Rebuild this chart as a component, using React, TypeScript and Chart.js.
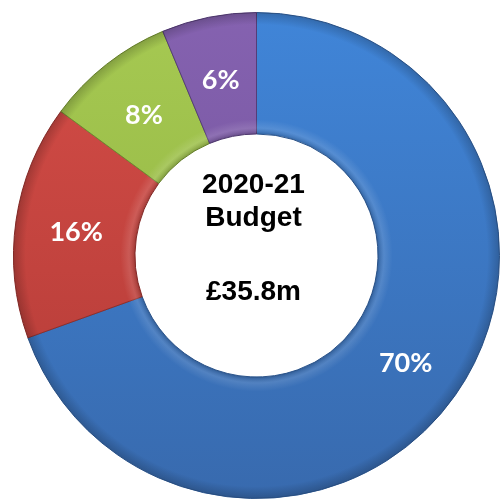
import React, { useEffect, useRef } from "react";
import { Chart, registerables } from "chart.js";

Chart.register(...registerables);

const categories = ["Category A", "Category B", "Category C", "Category D"];
const values = [69.5, 15.6, 8.6, 6.3];
const valueLabels = ["70%", "16%", "8%", "6%"];
const centerLines = ["2020-21", "Budget", "", "£35.8m"];
const topColors = ["#4085d8", "#d44d47", "#a6c952", "#8562b0"];
const bottomColors = ["#386aae", "#b23a36", "#8daf3e", "#6c4e95"];
const edgeColors = ["#2f5a94", "#8e2e2b", "#6f8a30", "#553d77"];

const labelPlugin = {
  id: "labelPlugin",
  afterDatasetsDraw(chart: any) {
    const ctx = chart.ctx;
    const meta = chart.getDatasetMeta(0);
    const a0 = meta.data[0];
    const rIn = a0.innerRadius;
    const rOut = a0.outerRadius;
    ctx.save();
    const g = ctx.createRadialGradient(a0.x, a0.y, rIn, a0.x, a0.y, rOut);
    g.addColorStop(0, "rgba(0,0,0,0.18)");
    g.addColorStop(0.05, "rgba(255,255,255,0.12)");
    g.addColorStop(0.12, "rgba(255,255,255,0)");
    g.addColorStop(0.9, "rgba(0,0,0,0)");
    g.addColorStop(1, "rgba(0,0,0,0.2)");
    ctx.beginPath();
    ctx.arc(a0.x, a0.y, rOut, 0, Math.PI * 2);
    ctx.arc(a0.x, a0.y, rIn, 0, Math.PI * 2, true);
    ctx.closePath();
    ctx.fillStyle = g;
    ctx.fill();

    ctx.textAlign = "center";
    ctx.textBaseline = "middle";
    ctx.fillStyle = "#ffffff";
    ctx.font = "bold 27px Lato";
    meta.data.forEach((arc: any, i: number) => {
      const p = arc.tooltipPosition();
      ctx.fillText(valueLabels[i], p.x, p.y + 3);
    });
    const cx = a0.x - 3;
    const cy = a0.y;
    ctx.fillStyle = "#000000";
    ctx.font = "bold 28px 'Liberation Sans', Arial, sans-serif";
    const offsets = [-70, -37, 0, 37];
    centerLines.forEach((t, i) => {
      if (t) ctx.fillText(t, cx, cy + offsets[i]);
    });
    ctx.restore();
  },
};

export default function App() {
  const ref = useRef<HTMLCanvasElement | null>(null);
  useEffect(() => {
    if (!ref.current) return;
    const chart = new Chart(ref.current, {
      type: "doughnut",
      data: {
        labels: categories,
        datasets: [
          {
            data: values,
            backgroundColor: (c: any) => {
              const ch = c.chart;
              const area = ch.chartArea;
              if (!area) return topColors[c.dataIndex];
              const g = ch.ctx.createLinearGradient(0, area.top, 0, area.bottom);
              g.addColorStop(0, topColors[c.dataIndex]);
              g.addColorStop(1, bottomColors[c.dataIndex]);
              return g;
            },
            borderColor: edgeColors,
            borderWidth: 1,
            hoverOffset: 0,
          },
        ],
      },
      options: {
        animation: false,
        responsive: true,
        maintainAspectRatio: false,
        cutout: "50%",
        layout: { padding: { left: 13, top: 12, right: 0, bottom: 0 } },
        plugins: {
          legend: { display: false },
          tooltip: { enabled: false },
        },
      },
      plugins: [labelPlugin],
    });
    return () => chart.destroy();
  }, []);
  return (
    <div style={{ position: "absolute", left: 0, top: 0, width: 500, height: 499, background: "#fff" }}>
      <canvas ref={ref} />
    </div>
  );
}
